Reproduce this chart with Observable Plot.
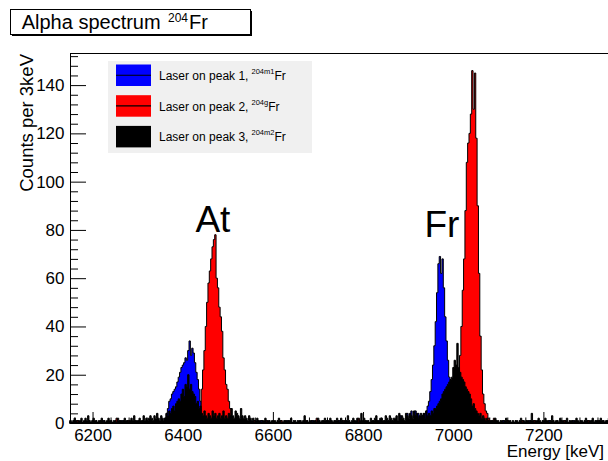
<!DOCTYPE html>
<html><head><meta charset="utf-8">
<script src="https://cdn.jsdelivr.net/npm/d3@7"></script>
<script src="https://cdn.jsdelivr.net/npm/@observablehq/plot@0.6"></script>
<style>
html,body{margin:0;padding:0;background:#fff;overflow:hidden;}
#chart{width:608px;height:461px;overflow:hidden;position:relative;}
svg text{font-family:"Liberation Sans",Arial,Helvetica,sans-serif;}
</style></head><body><div id="chart"></div>
<script>
// ---- data ----
const binWidth = 3;
const energyRange = [6150, 7350];
const countRange = [0, 153.3];
const xTicks = [6200, 6400, 6600, 6800, 7000, 7200];
const yTicks = [0, 20, 40, 60, 80, 100, 120, 140];
const seriesNames = ["Laser on peak 1, ", "Laser on peak 2, ", "Laser on peak 3, "];
const seriesIsotopes = ["204m1", "204g", "204m2"];
const seriesColors = ["#0000ff", "#ff0000", "#000000"];
const peakLabels = ["At", "Fr"];
const peakLabelEnergy = [6427, 6935];
const peakLabelCount = [79.3, 77.2];

// black histogram (laser on peak 3), 3 keV bins from 6150 keV
const blackCounts = [
  1,0,1,2,1,0,1,1,2,0,
  1,2,1,3,1,0,1,2,1,1,
  0,1,1,2,0,1,0,1,2,1,
  1,0,1,1,0,2,1,1,0,1,
  2,1,1,0,1,2,1,3,1,1,
  1,2,1,1,3,1,2,1,2,3,
  2,1,3,2,4,2,1,3,2,1,
  2,4,3,5,4,6,7,5,8,9,
  10,9,12,14,11,16,15,20,14,16,
  13,12,11,8,9,6,7,4,3,5,
  3,2,4,3,2,5,3,4,2,3,
  4,2,3,5,2,3,2,4,3,6,
  3,2,5,4,3,2,6,3,2,3,
  2,1,3,2,1,2,0,1,2,1,
  1,0,1,1,2,0,1,1,0,1,
  1,1,0,1,2,1,0,0,1,1,
  0,1,1,2,0,1,1,0,1,1,
  1,0,1,3,0,1,0,1,1,0,
  1,1,0,2,1,0,1,1,2,1,
  0,1,2,1,0,1,1,2,1,0,
  2,1,0,1,1,3,1,0,1,2,
  1,1,2,0,1,4,1,2,1,1,
  1,0,2,1,1,2,3,1,0,2,
  2,1,1,3,2,1,3,2,1,2,
  2,3,1,4,2,3,2,1,4,3,
  2,4,3,2,5,3,4,2,3,4,
  3,4,2,5,3,4,3,5,4,6,
  6,7,8,9,10,12,13,14,15,16,
  17,18,19,23,26,24,33,23,21,19,
  18,17,15,14,13,12,10,7,8,6,
  5,4,3,4,2,3,2,1,2,1,
  0,1,1,0,2,1,1,0,1,1,
  0,1,2,0,1,1,0,1,0,1,
  1,0,1,2,0,1,0,1,1,0,
  1,4,1,0,1,1,2,1,0,1,
  1,2,1,1,0,1,3,1,0,1,
  1,0,2,1,1,0,1,2,0,1,
  1,1,0,1,2,1,0,1,1,0,
  1,2,1,0,1,1,2,0,1,1,
  0,1,2,1,1,0,1,1,2,1
];

// blue histogram (laser on peak 1): peaks + sparse background
const blueAtStart = 6360;
const blueAt = [2,4,6,9,10,12,13,14,15,17,19,21,23,24,25,27,26,30,34,28,31,29,25,21,18,14,9,5,3,2,1];
const blueFrStart = 6924;
const blueFr = [2,1,3,2,4,5,7,9,13,18,24,32,42,54,66,69,62,68,56,44,34,26,19,15,13,12,10,8,6,4,3,2,2,1,1];
const blueNoise = [[6222,1],[6264,1],[6573,1],[6630,1],[6687,1],[6720,1],[6747,1],[6834,1],
  [6882,3],[6897,4],[6906,5],[6915,5],[6921,4],[7110,1],[7167,1],[7212,1],[7266,1]];

// red histogram (laser on peak 2): peaks + sparse background
const redAtStart = 6438;
const redAt = [3,14,22,30,40,50,58,63,68,73,76,78,60,56,48,44,38,27,22,16,14,9,6,2,1];
const redFrStart = 7005;
const redFr = [3,8,18,28,40,55,68,88,108,116,120,128,146,130,145,118,90,62,36,22,12,8,5,4,2,1];
const redNoise = [[6165,1],[6252,2],[6279,1],[6558,1],[6585,1],[6618,1],[6672,1],[6696,2],
  [6756,1],[6789,2],[7089,2],[7119,1],[7152,1],[7179,1],[7245,1],[7299,1],[7320,1]];

// ---- build tables ----
const nBins = Math.round((energyRange[1] - energyRange[0]) / binWidth);
function binOf(e) { return Math.round((e - energyRange[0]) / binWidth); }
function buildCounts(segments, noise) {
  const c = new Array(nBins).fill(0);
  for (const [start, vals] of segments) vals.forEach((v, k) => { c[binOf(start) + k] += v; });
  for (const [e, v] of noise) c[binOf(e)] += v;
  return c;
}
function toPoints(c) {
  const pts = c.map((v, i) => ({x: energyRange[0] + i * binWidth, y: v}));
  pts.push({x: energyRange[1], y: c[c.length - 1]});
  return pts;
}
const blueCounts = buildCounts([[blueAtStart, blueAt], [blueFrStart, blueFr]], blueNoise);
const redCounts = buildCounts([[redAtStart, redAt], [redFrStart, redFr]], redNoise);
const series = [
  {color: seriesColors[0], points: toPoints(blueCounts)},
  {color: seriesColors[1], points: toPoints(redCounts)},
  {color: seriesColors[2], points: toPoints(blackCounts)}
];
const labelData = peakLabels.map((t, i) => ({label: t, x: peakLabelEnergy[i], y: peakLabelCount[i]}));

// ---- layout ----
const W = 612, H = 461, mL = 70, mR = 1, mT = 53, mB = 38;
const plotW = W - mL - mR, plotH = H - mT - mB;
const yMinor = d3.range(0, 153, 4).filter(v => v % 20 !== 0);
const xMinor = d3.range(6160, 7350, 40).filter(v => (v - 6200) % 200 !== 0);

const svg = Plot.plot({
  width: W, height: H,
  marginLeft: mL, marginRight: mR, marginTop: mT, marginBottom: mB,
  style: {fontFamily: '"Liberation Sans", Arial, sans-serif', fontSize: "17px", maxWidth: "none", background: "white", color: "black", overflow: "hidden"},
  x: {domain: energyRange},
  y: {domain: countRange},
  marks: [
    ...series.map(s => Plot.areaY(s.points, {x: "x", y1: 0, y2: "y", curve: "step-after", fill: s.color, stroke: "black", strokeWidth: 1})),
    Plot.tickX(xMinor, {stroke: "black", insetTop: plotH - 5.5}),
    Plot.tickX(xTicks, {stroke: "black", insetTop: plotH - 11}),
    Plot.tickY(yMinor, {stroke: "black", insetRight: plotW - 8}),
    Plot.tickY(yTicks, {stroke: "black", insetRight: plotW - 16}),
    Plot.frame({stroke: "black"}),
    Plot.axisX(xTicks, {tickSize: 0, tickPadding: 5, tickFormat: d => String(d), label: null, fontSize: 17}),
    Plot.axisY(yTicks, {tickSize: 0, tickPadding: 6, tickFormat: d => String(d), label: null, fontSize: 17}),
    Plot.text(labelData, {x: "x", y: "y", text: "label", textAnchor: "start", lineAnchor: "bottom", fontSize: 37, fill: "black"})
  ]
});
document.getElementById("chart").appendChild(svg);

const s = d3.select(svg);
const font = '"Liberation Sans", Arial, sans-serif';
// axis titles
s.append("text").attr("x", 604).attr("y", 457).attr("text-anchor", "end")
  .attr("font-size", 17).attr("font-family", font).attr("fill", "black").text("Energy [keV]");
s.append("text").attr("transform", "translate(33,54) rotate(-90)").attr("text-anchor", "end")
  .attr("font-size", 18.5).attr("font-family", font).attr("fill", "black").text("Counts per 3keV");

// title box
s.append("rect").attr("x", 12).attr("y", 11).attr("width", 240).attr("height", 25).attr("fill", "black");
s.append("rect").attr("x", 10.5).attr("y", 9.5).attr("width", 240).attr("height", 25).attr("fill", "white").attr("stroke", "black");
const tt = s.append("text").attr("x", 21.7).attr("y", 28.5).attr("text-anchor", "start")
  .attr("font-size", 20).attr("font-family", font).attr("fill", "black");
tt.append("tspan").text("Alpha spectrum");
tt.append("tspan").attr("x", 168).attr("dy", -6.5).attr("font-size", 12).text("204");
tt.append("tspan").attr("x", 189).attr("dy", 6.5).text("Fr");

// legend
s.append("rect").attr("x", 108).attr("y", 61).attr("width", 204).attr("height", 92).attr("fill", "#f0f0f0");
seriesNames.forEach((name, i) => {
  const y0 = 64.5 + i * 30.7;
  s.append("rect").attr("x", 116).attr("y", y0).attr("width", 35).attr("height", 21.5).attr("fill", seriesColors[i]);
  s.append("line").attr("x1", 116).attr("x2", 151).attr("y1", y0 + 10.75).attr("y2", y0 + 10.75).attr("stroke", "black").attr("stroke-width", 1.2);
  const t = s.append("text").attr("x", 159).attr("y", y0 + 15.5).attr("text-anchor", "start")
    .attr("font-size", 12).attr("font-family", font).attr("fill", "black");
  t.append("tspan").text(name);
  t.append("tspan").attr("x", 251.5).attr("dy", -6).attr("font-size", 7.5).text(seriesIsotopes[i]);
  t.append("tspan").attr("dy", 6).text("Fr");
});
</script></body></html>
